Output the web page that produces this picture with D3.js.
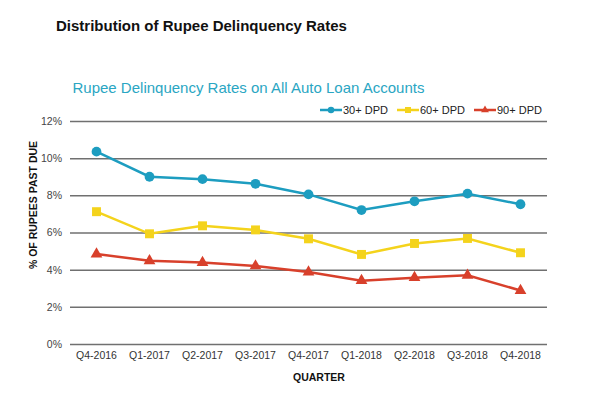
<!DOCTYPE html>
<html>
  <head>
    <meta charset="utf-8">
    <script src="https://d3js.org/d3.v7.min.js"></script>
    <title>Distribution of Rupee Delinquency Rates</title>
    <style>
      body { margin: 0; background: #fff; }
      text { font-family: "Liberation Sans", Arial, sans-serif; }
    </style>
  </head>
  <body>
    <svg width="600" height="394"></svg>
    <script>
      // Data
      const quarters = ['Q4-2016', 'Q1-2017', 'Q2-2017', 'Q3-2017', 'Q4-2017',
                        'Q1-2018', 'Q2-2018', 'Q3-2018', 'Q4-2018'];
      const dpd30 = [10.35, 9.0, 8.87, 8.62, 8.05, 7.21, 7.68, 8.09, 7.52];
      const dpd60 = [7.12, 5.93, 6.36, 6.14, 5.66, 4.82, 5.41, 5.68, 4.91];
      const dpd90 = [4.84, 4.48, 4.38, 4.2, 3.87, 3.41, 3.57, 3.7, 2.88];
      const yTicks = [0, 2, 4, 6, 8, 10, 12];

      const series = [
        { name: '30+ DPD', values: dpd30, color: '#1d9dc0', shape: d3.symbolCircle, size: 75 },
        { name: '60+ DPD', values: dpd60, color: '#f4d31c', shape: d3.symbolSquare, size: 80 },
        { name: '90+ DPD', values: dpd90, color: '#d8402b', shape: d3.symbolTriangle, size: 60 }
      ];

      const svg = d3.select('svg');
      const margin = { left: 70, right: 53, top: 121, bottom: 50 };
      const width = 600 - margin.left - margin.right;
      const height = 394 - margin.top - margin.bottom;

      // Titles
      svg.append('text')
        .attr('x', 56).attr('y', 31)
        .attr('font-size', 15).attr('font-weight', 'bold').attr('fill', '#111')
        .text('Distribution of Rupee Delinquency Rates');
      svg.append('text')
        .attr('x', 72.5).attr('y', 93)
        .attr('font-size', 15).attr('fill', '#2aa6c3')
        .text('Rupee Delinquency Rates on All Auto Loan Accounts');

      const g = svg.append('g').attr('transform', `translate(${margin.left},${margin.top})`);

      const x = d3.scaleBand().domain(quarters).range([0, width]);
      const y = d3.scaleLinear().domain([0, 12]).range([height, 0]);

      // gridlines + y labels
      const yAxis = g.append('g')
        .call(d3.axisLeft(y).tickValues(yTicks).tickSize(-width).tickFormat(d => d + '%'));
      yAxis.select('.domain').remove();
      yAxis.selectAll('.tick line').attr('stroke', '#707070').attr('stroke-width', 1.5);
      yAxis.selectAll('.tick text')
        .attr('x', -8).attr('font-size', 10.5).attr('fill', '#444')
        .style('font-family', '"Liberation Sans", Arial, sans-serif');

      // x labels
      const xAxis = g.append('g')
        .attr('transform', `translate(0,${height})`)
        .call(d3.axisBottom(x).tickSize(0));
      xAxis.select('.domain').remove();
      xAxis.selectAll('.tick text')
        .attr('y', 8).attr('font-size', 10.5).attr('fill', '#333')
        .style('font-family', '"Liberation Sans", Arial, sans-serif');

      // axis titles
      svg.append('text')
        .attr('x', 319).attr('y', 381)
        .attr('text-anchor', 'middle').attr('font-size', 10.5).attr('font-weight', 'bold').attr('fill', '#111')
        .text('QUARTER');
      svg.append('text')
        .attr('transform', 'translate(37,205) rotate(-90)')
        .attr('text-anchor', 'middle').attr('font-size', 10.5).attr('font-weight', 'bold').attr('fill', '#111')
        .text('% OF RUPEES PAST DUE');

      // lines and markers
      const line = d3.line()
        .x((d, i) => x(quarters[i]) + x.bandwidth() / 2)
        .y(d => y(d));

      series.forEach(s => {
        g.append('path')
          .datum(s.values)
          .attr('fill', 'none')
          .attr('stroke', s.color)
          .attr('stroke-width', 2.5)
          .attr('d', line);
        g.selectAll(null)
          .data(s.values)
          .enter().append('path')
            .attr('d', d3.symbol().type(s.shape).size(s.size))
            .attr('transform', (d, i) => `translate(${x(quarters[i]) + x.bandwidth() / 2},${y(d)})`)
            .attr('fill', s.color);
      });

      // legend
      const legendX = [320, 397, 474];
      const legend = svg.append('g').attr('transform', 'translate(0,110)');
      series.forEach((s, i) => {
        const lg = legend.append('g').attr('transform', `translate(${legendX[i]},0)`);
        lg.append('line').attr('x1', 0).attr('x2', 22)
          .attr('stroke', s.color).attr('stroke-width', 2.5);
        lg.append('path')
          .attr('d', d3.symbol().type(s.shape).size(s.size * 0.45))
          .attr('transform', 'translate(11,0)')
          .attr('fill', s.color);
        lg.append('text')
          .attr('x', 23).attr('y', 4)
          .attr('font-size', 11).attr('fill', '#222')
          .text(s.name);
      });
    </script>
  </body>
</html>
